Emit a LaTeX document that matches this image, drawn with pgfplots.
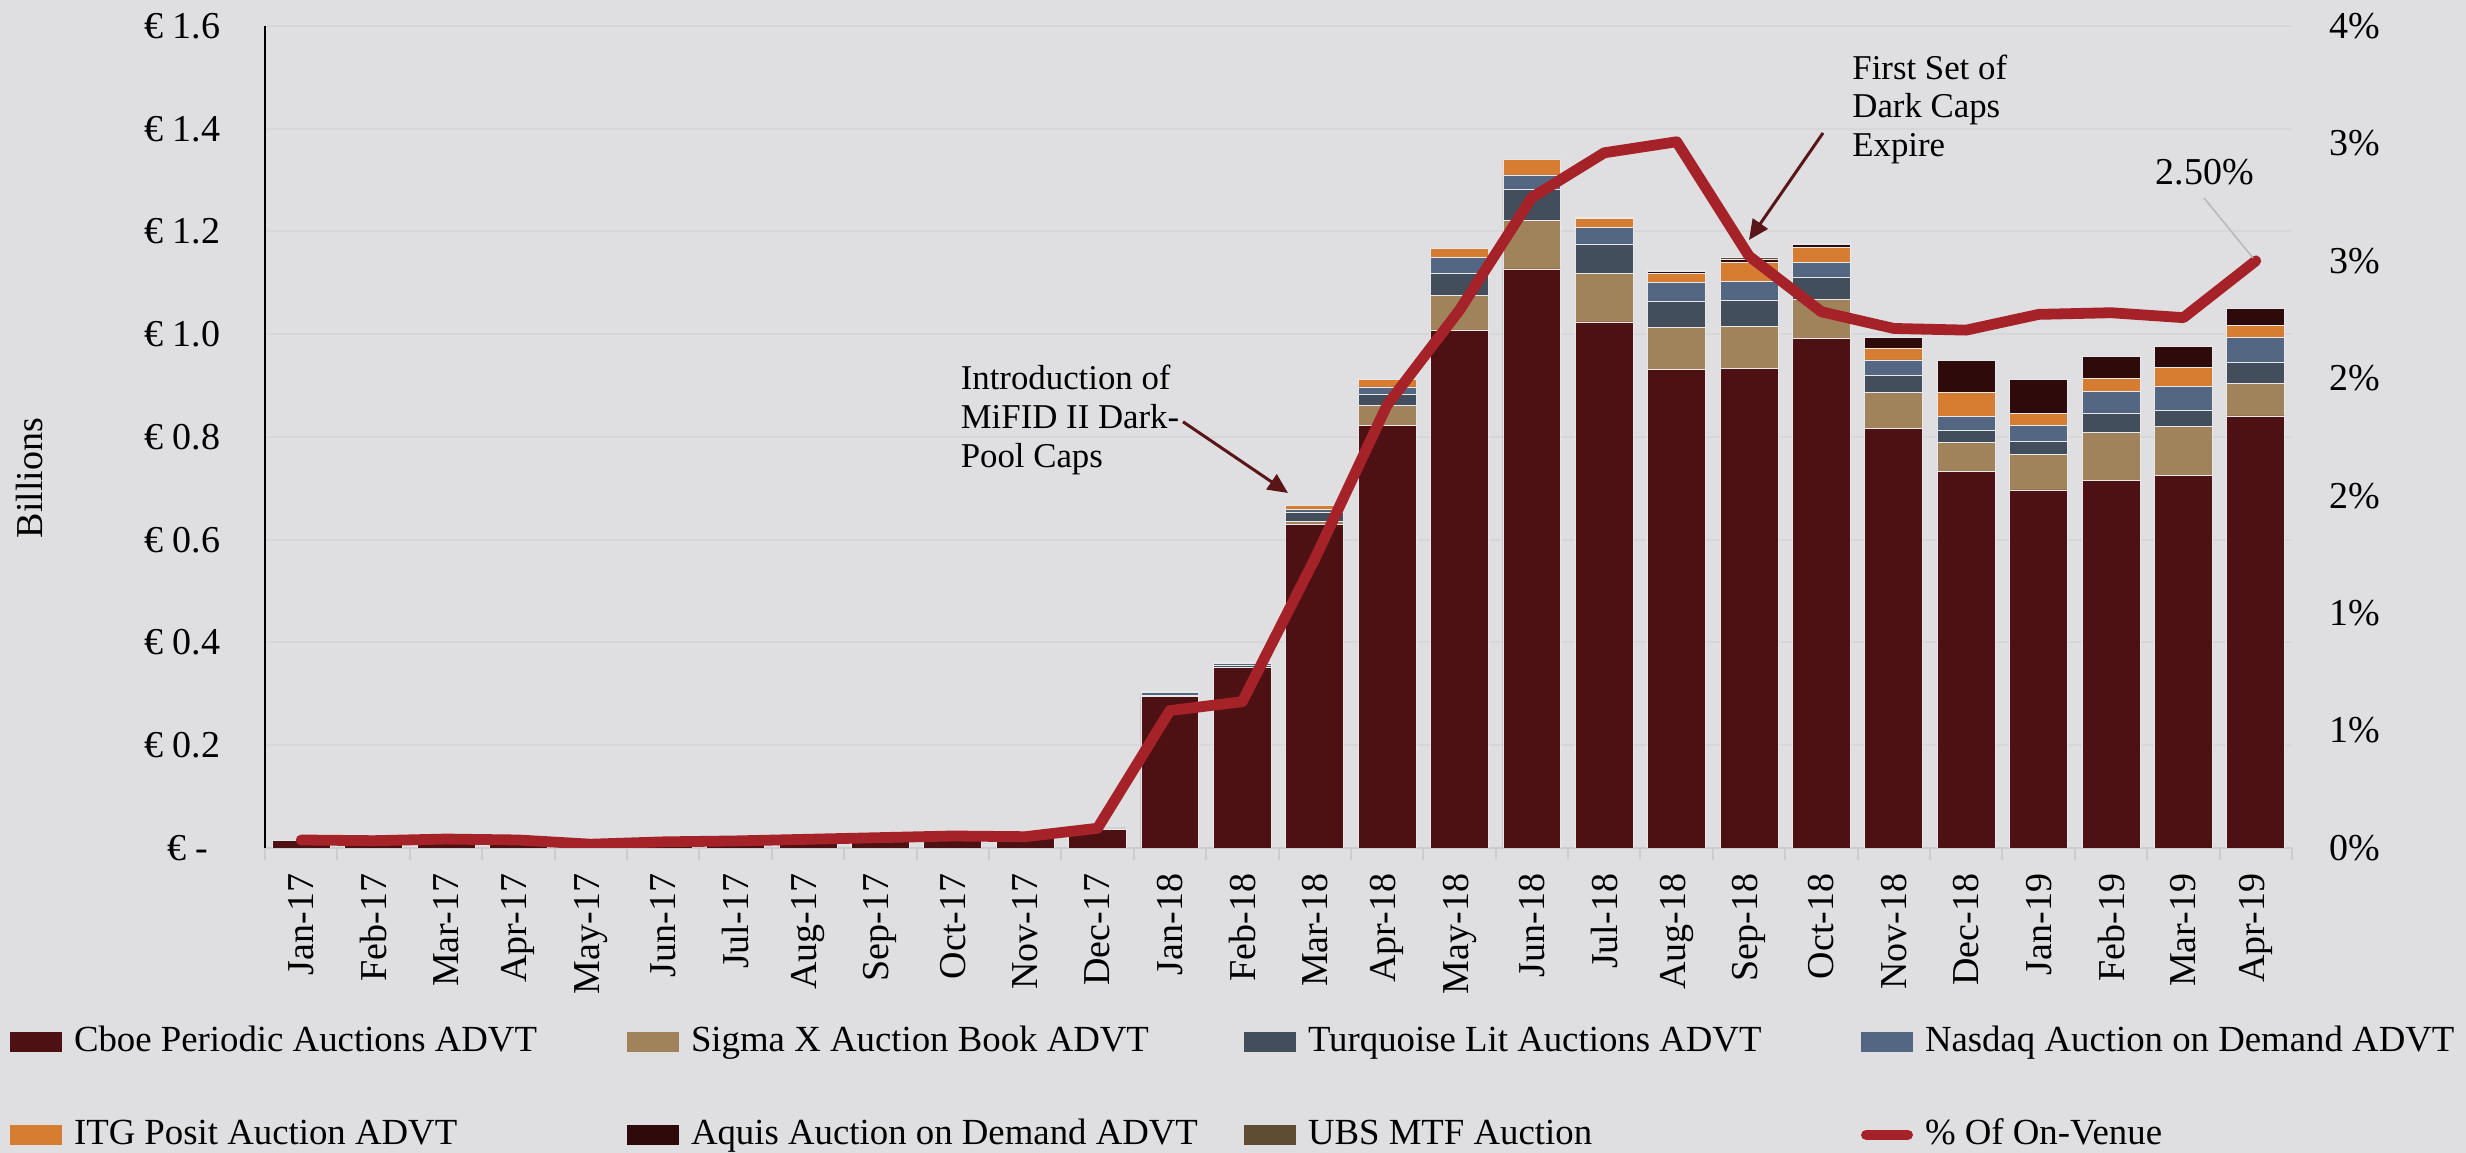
\documentclass[border=0pt]{standalone}
\usepackage{fontspec}
\setmainfont{Liberation Serif}
\usepackage{pgfplots}
\usepackage{pgfplotstable}
\pgfplotsset{compat=1.18}
\usetikzlibrary{arrows.meta}
\definecolor{bg}{HTML}{DFDFE1}
\definecolor{c1}{HTML}{4E1113}
\definecolor{c2}{HTML}{A0835A}
\definecolor{c3}{HTML}{424E5C}
\definecolor{c4}{HTML}{536783}
\definecolor{c5}{HTML}{D67D32}
\definecolor{c6}{HTML}{2E0A0A}
\definecolor{c7}{HTML}{5E4C33}
\definecolor{linec}{HTML}{A52328}
\definecolor{arrowc}{HTML}{5A1518}
\definecolor{gridc}{HTML}{D7D7D9}
\definecolor{axgray}{HTML}{CCCCCE}
\definecolor{barline}{HTML}{E8E8EA}

\pgfplotstableread{
i cboe sigma turq nasdaq itg aquis ubs pct
0 0.015 0 0 0 0 0 0 0.034
1 0.014 0 0 0 0 0 0 0.031
2 0.017 0 0 0 0 0 0 0.038
3 0.015 0 0 0 0 0 0 0.034
4 0.007 0 0 0 0 0 0 0.016
5 0.012 0 0 0 0 0 0 0.026
6 0.0135 0 0 0 0 0 0 0.030
7 0.017 0 0 0 0 0 0 0.037
8 0.020 0 0 0 0 0 0 0.044
9 0.023 0 0 0 0 0 0 0.051
10 0.022 0 0 0 0 0 0 0.048
11 0.036 0 0.001 0.002 0 0 0 0.084
12 0.2945 0.001 0.002 0.005 0.0015 0 0 0.585
13 0.351 0.001 0.003 0.005 0.002 0 0 0.623
14 0.629 0.006 0.019 0.005 0.0085 0 0 1.23
15 0.823 0.0376 0.022 0.0148 0.0144 0 0 1.886
16 1.008 0.068 0.042 0.032 0.0175 0 0 2.29
17 1.127 0.095 0.060 0.028 0.031 0 0 2.77
18 1.024 0.095 0.0565 0.0325 0.018 0.002 0 2.96
19 0.932 0.081 0.051 0.0376 0.0163 0.005 0.002 3.007
20 0.934 0.082 0.049 0.038 0.036 0.0066 0.003 2.52
21 0.991 0.076 0.044 0.028 0.030 0.006 0.002 2.283
22 0.816 0.071 0.032 0.031 0.023 0.021 0 2.212
23 0.733 0.056 0.0245 0.027 0.047 0.062 0 2.205
24 0.697 0.069 0.026 0.030 0.0245 0.066 0 2.272
25 0.715 0.093 0.0376 0.0436 0.024 0.043 0 2.279
26 0.725 0.095 0.032 0.047 0.037 0.041 0 2.258
27 0.841 0.063 0.041 0.048 0.024 0.034 0 2.50
}\data

\begin{document}
\begin{tikzpicture}
\fill[bg] (0,0) rectangle (616.5pt,288.25pt);
\begin{axis}[
  at={(66.25pt,76.25pt)}, anchor=south west,
  scale only axis, width=506.75pt, height=205.5pt,
  xmin=-0.5, xmax=27.5, ymin=0, ymax=1.6,
  ybar stacked, bar width=0.8,
  axis x line*=bottom, axis y line*=left,
  x axis line style={draw=axgray, line width=0.5pt, -},
  y axis line style={draw=black, line width=0.5pt, -},
  major tick length=0pt,
  ytick={0,0.2,0.4,0.6,0.8,1.0,1.2,1.4,1.6},
  yticklabels={€ -\kern3pt, € 0.2, € 0.4, € 0.6, € 0.8, € 1.0, € 1.2, € 1.4, € 1.6},
  yticklabel style={anchor=east, inner sep=0pt, font=\fontsize{9.5}{11}\selectfont},
  yticklabel shift=11pt,
  xtick={0,...,27},
  xticklabels={Jan-17,Feb-17,Mar-17,Apr-17,May-17,Jun-17,Jul-17,Aug-17,Sep-17,Oct-17,Nov-17,Dec-17,Jan-18,Feb-18,Mar-18,Apr-18,May-18,Jun-18,Jul-18,Aug-18,Sep-18,Oct-18,Nov-18,Dec-18,Jan-19,Feb-19,Mar-19,Apr-19},
  xticklabel style={rotate=90, anchor=east, inner sep=0pt, font=\fontsize{9.5}{11}\selectfont},
  xticklabel shift=6.25pt,
  extra x ticks={-0.5,0.5,...,27.5},
  extra x tick labels={},
  extra x tick style={major tick length=3pt, tick align=outside, tick style={draw=axgray, line width=0.5pt}, grid=none},
  ymajorgrids, grid style={draw=gridc, line width=0.5pt},
  legend columns=4,
  legend cell align=left,
  legend image code/.code={\fill[#1, draw=none] (0pt,-2.5pt) rectangle (13pt,2.5pt);},
  legend style={at={(axis description cs:-0.1258,-0.2922)}, anchor=west, draw=none, fill=none,
    inner sep=0pt, outer sep=0pt, font=\fontsize{9.2}{11}\selectfont, row sep=14.3pt,
    nodes={inner sep=0pt, text height=7pt, text depth=2pt},
    /tikz/every odd column/.append style={column sep=3pt},
    /tikz/every even column/.append style={column sep=0pt}},
]
\addplot[fill=c1, draw=barline, line width=0.2pt] table[x=i,y=cboe]{\data};
\addlegendentry{\makebox[138.25pt][l]{Cboe Periodic Auctions ADVT}}
\addplot[fill=c2, draw=barline, line width=0.2pt] table[x=i,y=sigma]{\data};
\addlegendentry{\makebox[138.25pt][l]{Sigma X Auction Book ADVT}}
\addplot[fill=c3, draw=barline, line width=0.2pt] table[x=i,y=turq]{\data};
\addlegendentry{\makebox[138.25pt][l]{Turquoise Lit Auctions ADVT}}
\addplot[fill=c4, draw=barline, line width=0.2pt] table[x=i,y=nasdaq]{\data};
\addlegendentry{Nasdaq Auction on Demand ADVT}
\addplot[fill=c5, draw=barline, line width=0.2pt] table[x=i,y=itg]{\data};
\addlegendentry{\makebox[138.25pt][l]{ITG Posit Auction ADVT}}
\addplot[fill=c6, draw=barline, line width=0.2pt] table[x=i,y=aquis]{\data};
\addlegendentry{\makebox[138.25pt][l]{Aquis Auction on Demand ADVT}}
\addplot[fill=c7, draw=barline, line width=0.2pt] table[x=i,y=ubs]{\data};
\addlegendentry{\makebox[138.25pt][l]{UBS MTF Auction}}
\addlegendimage{legend image code/.code={\draw[linec, line width=2.6pt, line cap=round] (1.3pt,0pt) -- (11.7pt,0pt);}}
\addlegendentry{\% Of On-Venue}
\end{axis}
\begin{axis}[
  at={(66.25pt,76.25pt)}, anchor=south west,
  scale only axis, width=506.75pt, height=205.5pt,
  xmin=-0.5, xmax=27.5, ymin=0, ymax=3.5,
  axis x line=none, axis y line*=right,
  y axis line style={draw=none},
  major tick length=0pt,
  ytick={0,0.5,1,1.5,2,2.5,3,3.5},
  yticklabels={0\%,1\%,1\%,2\%,2\%,3\%,3\%,4\%},
  yticklabel style={anchor=west, inner sep=0pt, font=\fontsize{9.5}{11}\selectfont},
  yticklabel shift=9.25pt,
]
\addplot[color=linec, line width=2.7pt, line join=round, line cap=round] table[x=i,y=pct]{\data};
\end{axis}
% annotations
\node[rotate=90, font=\fontsize{9.5}{11}\selectfont] at (7.5pt,168.75pt) {Billions};
\node[anchor=north west, inner sep=0pt, align=left, font=\fontsize{8.7}{9.8}\selectfont] at (240pt,197.2pt) {Introduction of\\MiFID II Dark-\\Pool Caps};
\draw[arrowc, line width=0.75pt, -{Triangle[length=5pt,width=4.5pt]}] (295.75pt,182.8pt) -- (322pt,165pt);
\node[anchor=north west, inner sep=0pt, align=left, font=\fontsize{8.7}{9.6}\selectfont] at (462.9pt,274.75pt) {First Set of\\Dark Caps\\Expire};
\draw[arrowc, line width=0.75pt, -{Triangle[length=5pt,width=4.5pt]}] (455.75pt,255pt) -- (437.25pt,228.25pt);
\node[font=\fontsize{9.5}{11}\selectfont, inner sep=0pt] at (551.25pt,245.25pt) {2.50\%};
\draw[gray!55, line width=0.4pt] (551pt,238.75pt) -- (563.25pt,223.75pt);
\pgfresetboundingbox
\path[use as bounding box] (0,0) rectangle (616.5pt,288.25pt);
\end{tikzpicture}
\end{document}
